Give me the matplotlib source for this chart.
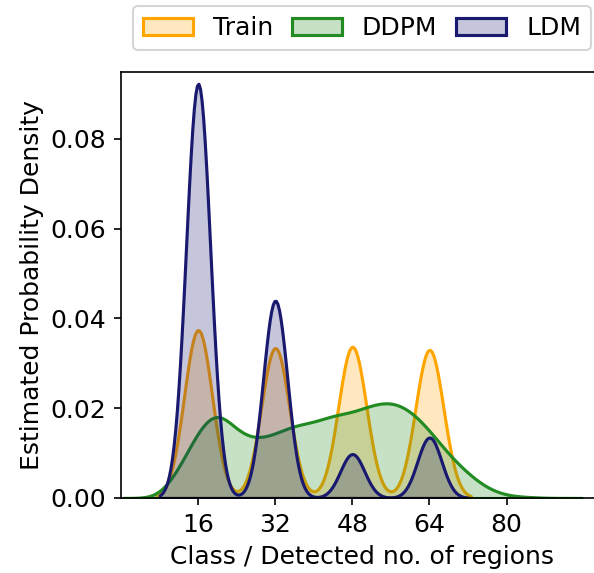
import numpy as np
import matplotlib
matplotlib.use("Agg")
import matplotlib.pyplot as plt
import seaborn as sns

# Number of regions per image, as counts of images at each value
classes = [16, 32, 48, 64]
train_counts = [271, 242, 244, 239]
ldm_counts = [575, 274, 61, 84]

ddpm_regions = [12, 16, 20, 24, 28, 32, 36, 40, 44,
                48, 52, 56, 60, 64, 68, 72, 76, 80, 84]
ddpm_counts = [25, 63, 86, 59, 52, 58, 67, 68, 76,
               77, 85, 89, 81, 62, 39, 22, 8, 2, 1]

xticks = [16, 32, 48, 64, 80]

plt.rcParams["font.family"] = ["DejaVu Sans"]
plt.rcParams["font.size"] = 12

fig = plt.figure(figsize=(3.96, 3.82), dpi=150)
ax = fig.add_axes([0.2037, 0.1309, 0.8114, 0.7435])


def bw_factor(values, weights, sigma):
    """Kernel factor giving a Gaussian kernel of width `sigma` (in data units)."""
    std = np.sqrt(np.cov(np.asarray(values, float), aweights=np.asarray(weights, float)))
    return sigma / std


series = [
    ("Train", classes, train_counts, "orange", 2.9),
    ("DDPM", ddpm_regions, ddpm_counts, "forestgreen", 3.0),
    ("LDM", classes, ldm_counts, "midnightblue", 2.5),
]

for label, values, counts, color, sigma in series:
    sns.kdeplot(x=np.asarray(values, float), weights=np.asarray(counts, float),
                bw_method=bw_factor(values, counts, sigma), fill=True,
                color=color, alpha=0.25, linewidth=1.5, label=label, ax=ax)

ax.set_xlim(0, 100)
ax.set_ylim(0, 0.0949)
ax.set_xticks(xticks)
ax.set_yticks([0.0, 0.02, 0.04, 0.06, 0.08])
ax.set_xlabel("Class / Detected no. of regions")
ax.set_ylabel("Estimated Probability Density", labelpad=3)

ax.legend(loc="lower center", bbox_to_anchor=(0.5, 1.022), ncol=3,
          columnspacing=0.75, borderaxespad=0.5)

fig.savefig("out.png", dpi=150)
